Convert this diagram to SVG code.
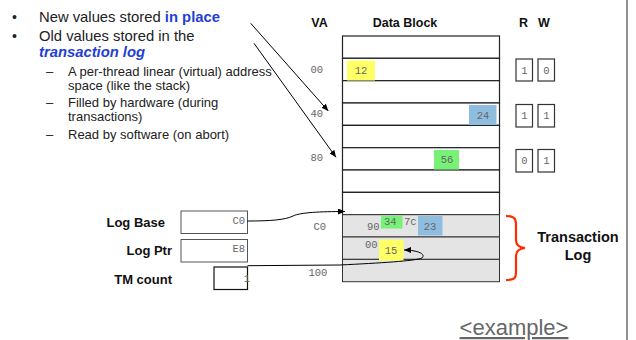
<svg xmlns="http://www.w3.org/2000/svg" width="636" height="340" viewBox="0 0 636 340">
<defs>
<marker id="ah" markerWidth="8" markerHeight="6" refX="7" refY="3" orient="auto" markerUnits="userSpaceOnUse">
<path d="M0,0 L7,3 L0,6 z" fill="#000"/>
</marker>
<style>
.t{font-family:"Liberation Sans",Arial,sans-serif;fill:#222}
.b{font-family:"Liberation Sans",Arial,sans-serif;font-weight:bold;fill:#111}
.m{font-family:"Liberation Mono","Courier New",monospace;font-size:10.5px;fill:#666}
.row{fill:#fff;stroke:#222;stroke-width:1.2}
.lrow{fill:#e4e4e4;stroke:#333;stroke-width:1}
.bit{fill:#fff;stroke:#333;stroke-width:1.2}
.reg{fill:#fff;stroke:#555;stroke-width:1}
.ln{fill:none;stroke:#000;stroke-width:1}
</style>
</defs>
<rect width="636" height="340" fill="#fff"/>
<line x1="627" y1="0" x2="627" y2="340" stroke="#222" stroke-width="1"/>

<g id="text-left">
<text class="t" x="12" y="22" font-size="14">•</text>
<text class="t" x="39" y="22" font-size="14.8">New values stored <tspan font-weight="bold" style="fill:#1f3fd4">in place</tspan></text>
<text class="t" x="12" y="41" font-size="14">•</text>
<text class="t" x="39" y="41" font-size="14.8">Old values stored in the</text>
<text class="t" x="39" y="57" font-size="14.8" font-weight="bold" font-style="italic" style="fill:#1f3fd4">transaction log</text>
<text class="t" x="46" y="76" font-size="13">–</text>
<text class="t" x="68" y="76" font-size="13">A per-thread linear (virtual) address</text>
<text class="t" x="68" y="89.5" font-size="13">space (like the stack)</text>
<text class="t" x="46" y="107" font-size="13">–</text>
<text class="t" x="68" y="107" font-size="13">Filled by hardware (during</text>
<text class="t" x="68" y="120.5" font-size="13">transactions)</text>
<text class="t" x="46" y="138.5" font-size="13">–</text>
<text class="t" x="68" y="138.5" font-size="13">Read by software (on abort)</text>
</g>

<g id="headers">
<text class="b" x="319.5" y="26.5" font-size="12.5" text-anchor="middle">VA</text>
<text class="b" x="405" y="26.5" font-size="12.5" text-anchor="middle">Data Block</text>
<text class="b" x="523.5" y="26.5" font-size="12.5" text-anchor="middle">R</text>
<text class="b" x="544" y="26.5" font-size="12.5" text-anchor="middle">W</text>
</g>

<g id="data-block">
<rect class="row" x="342.5" y="36" width="157" height="22.3"/>
<rect class="row" x="342.5" y="58.3" width="157" height="22.3"/>
<rect class="row" x="342.5" y="80.7" width="157" height="22.3"/>
<rect class="row" x="342.5" y="103" width="157" height="22.3"/>
<rect class="row" x="342.5" y="125.4" width="157" height="22.3"/>
<rect class="row" x="342.5" y="147.7" width="157" height="22.3"/>
<rect class="row" x="342.5" y="170" width="157" height="22.3"/>
<rect class="row" x="342.5" y="192.4" width="157" height="22.3"/>
<rect x="347" y="60.5" width="28" height="20" fill="#ffff66"/>
<text class="m" x="361" y="74" text-anchor="middle">12</text>
<rect x="469" y="105" width="27.5" height="20" fill="#8fbde0"/>
<text class="m" x="483" y="119" text-anchor="middle">24</text>
<rect x="434" y="150" width="25" height="19.5" fill="#77f277"/>
<text class="m" x="447" y="163" text-anchor="middle">56</text>
</g>

<g id="transaction-log">
<rect class="lrow" x="342.5" y="214.7" width="157" height="22.3"/>
<rect class="lrow" x="342.5" y="237" width="157" height="22.3"/>
<rect class="lrow" x="342.5" y="259.4" width="157" height="22.3"/>
<text class="m" x="367" y="230">90</text>
<rect x="381" y="216" width="21.5" height="12.5" fill="#77f277"/>
<text class="m" x="384" y="225">34</text>
<text class="m" x="404" y="225">7c</text>
<rect x="418" y="216" width="24.5" height="19.5" fill="#8fbde0"/>
<text class="m" x="430" y="230" text-anchor="middle">23</text>
<text class="m" x="365" y="248">00</text>
<rect x="379" y="239.7" width="24.5" height="21" fill="#ffff66"/>
<text class="m" x="391" y="254" text-anchor="middle">15</text>
</g>

<g id="va-labels">
<text class="m" x="310.5" y="73">00</text>
<text class="m" x="310.5" y="117">40</text>
<text class="m" x="310.5" y="161">80</text>
<text class="m" x="313.5" y="229.5">C0</text>
<text class="m" x="308.5" y="275.5">100</text>
</g>

<g id="rw-bits">
<rect class="bit" x="516" y="59" width="16.5" height="22"/>
<text class="m" x="524.5" y="73.5" text-anchor="middle">1</text>
<rect class="bit" x="538" y="59" width="16.5" height="22"/>
<text class="m" x="546.5" y="73.5" text-anchor="middle">0</text>
<rect class="bit" x="516" y="104.5" width="16.5" height="22.5"/>
<text class="m" x="524.5" y="119" text-anchor="middle">1</text>
<rect class="bit" x="538" y="104.5" width="16.5" height="22.5"/>
<text class="m" x="546.5" y="119" text-anchor="middle">1</text>
<rect class="bit" x="516" y="149.5" width="16.5" height="22.5"/>
<text class="m" x="524.5" y="164" text-anchor="middle">0</text>
<rect class="bit" x="538" y="149.5" width="16.5" height="22.5"/>
<text class="m" x="546.5" y="164" text-anchor="middle">1</text>
</g>

<g id="log-base">
<text class="b" x="165" y="226.5" font-size="13" text-anchor="end">Log Base</text>
<rect class="reg" x="181" y="211" width="66.5" height="22.5"/>
<text class="m" x="245" y="224" text-anchor="end">C0</text>
</g>
<g id="log-ptr">
<text class="b" x="172" y="254.5" font-size="13" text-anchor="end">Log Ptr</text>
<rect class="reg" x="181" y="239.5" width="66.5" height="22.5"/>
<text class="m" x="245" y="252" text-anchor="end">E8</text>
</g>
<g id="tm-count">
<text class="b" x="172" y="283.5" font-size="13" text-anchor="end">TM count</text>
<rect x="214" y="267" width="33.5" height="22.5" fill="#fff" stroke="#111" stroke-width="1.2"/>
<text class="m" x="250" y="282" text-anchor="end">1</text>
</g>

<g id="brace">
<path d="M506,216 C516,216 516,220 516,226 L516,240 C516,245 519,247.5 525,248 C519,248.5 516,251 516,256 L516,271 C516,277 516,280 506,280" fill="none" stroke="#ff2a00" stroke-width="2.2"/>
<text class="b" x="578" y="242" font-size="14.5" text-anchor="middle">Transaction</text>
<text class="b" x="578" y="259.5" font-size="14.5" text-anchor="middle">Log</text>
</g>

<g id="example">
<text x="514" y="335" font-family="'Liberation Sans',Arial,sans-serif" font-size="22" fill="#666" text-anchor="middle" text-decoration="underline">&lt;example&gt;</text>
</g>

<g id="connectors">
<line class="ln" x1="250.7" y1="23.3" x2="328.3" y2="111" marker-end="url(#ah)"/>
<line class="ln" x1="254" y1="43.3" x2="336" y2="157.3" marker-end="url(#ah)"/>
<path class="ln" d="M247.5,221 C270,221 285,220 293,216 C300,212.5 320,211.5 345,211.5" marker-end="url(#ah)"/>
<path class="ln" d="M247.5,265.7 L340,265 C380,263 415,261 422,258 C427,253 414,250 404,250" marker-end="url(#ah)"/>
</g>
</svg>
